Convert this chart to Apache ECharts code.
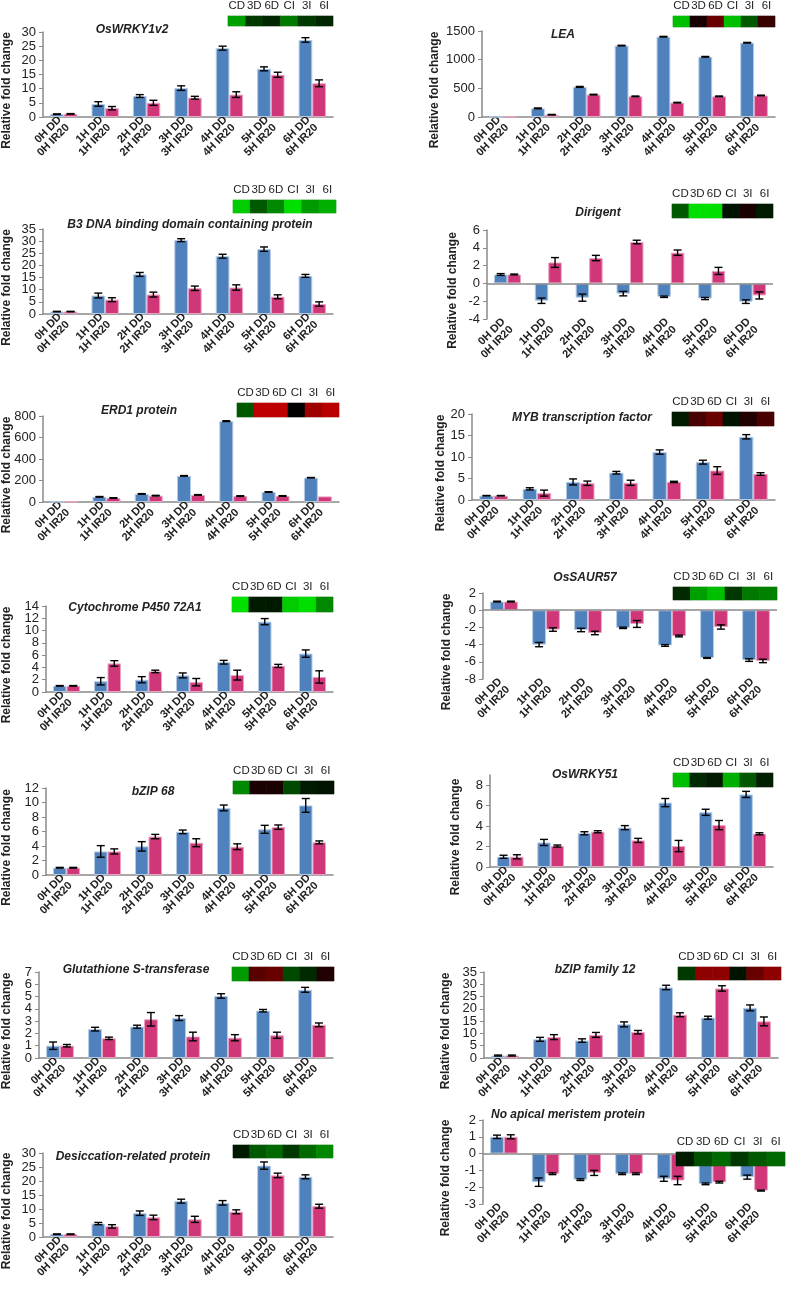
<!DOCTYPE html>
<html>
<head>
<meta charset="utf-8">
<script src="https://cdn.jsdelivr.net/npm/echarts@6/dist/echarts.min.js"></script>
<style>
  html, body { margin: 0; background: #fff; }
  #main { width: 787px; height: 1291px; }
</style>
</head>
<body>
<div id="main"></div>
<script>
// data
var hours = ["0H", "1H", "2H", "3H", "4H", "5H", "6H"];
var stages = ["CD", "3D", "6D", "CI", "3I", "6I"];
var genes = [
  "OsWRKY1v2", "LEA",
  "B3 DNA binding domain containing protein", "Dirigent",
  "ERD1 protein", "MYB transcription factor",
  "Cytochrome P450 72A1", "OsSAUR57",
  "bZIP 68", "OsWRKY51",
  "Glutathione S-transferase", "bZIP family 12",
  "Desiccation-related protein", "No apical meristem protein"
];
var ddValues = [
  [1.0, 4.6, 7.4, 10.2, 24.3, 17.0, 27.2],
  [1, 150, 525, 1245, 1400, 1050, 1295],
  [1.0, 7.6, 16.3, 30.4, 23.8, 26.7, 15.7],
  [1.0, -1.95, -1.6, -1.15, -1.5, -1.7, -2.05],
  [1, 48, 75, 243, 752, 93, 226],
  [1.0, 2.6, 4.2, 6.35, 11.15, 8.8, 14.7],
  [1.0, 1.75, 2.0, 2.7, 4.85, 11.45, 6.25],
  [1.0, -4.0, -2.3, -2.05, -4.1, -5.55, -5.8],
  [1.0, 3.25, 3.95, 5.95, 9.25, 6.3, 9.6],
  [1.0, 2.4, 3.3, 3.85, 6.3, 5.35, 7.1],
  [1.0, 2.35, 2.55, 3.25, 5.05, 3.85, 5.55],
  [1.0, 7.6, 7.1, 13.7, 28.7, 16.4, 20.4],
  [1.0, 4.8, 8.5, 12.8, 12.2, 25.5, 21.5],
  [1.0, -1.7, -1.55, -1.2, -1.5, -1.8, -1.4]
];
var ddErrors = [
  [0.1, 0.8, 0.5, 0.8, 0.7, 0.7, 0.8],
  [0, 8, 8, 6, 6, 6, 6],
  [0.1, 1.0, 0.8, 0.6, 0.8, 0.9, 0.6],
  [0.1, 0.3, 0.4, 0.25, 0.08, 0.12, 0.2],
  [0, 3, 3, 3, 4, 3, 2],
  [0.05, 0.25, 0.7, 0.3, 0.5, 0.45, 0.5],
  [0.05, 0.6, 0.5, 0.4, 0.3, 0.5, 0.6],
  [0.05, 0.25, 0.2, 0.08, 0.1, 0.05, 0.15],
  [0.05, 0.8, 0.65, 0.25, 0.4, 0.55, 0.95],
  [0.15, 0.3, 0.15, 0.2, 0.4, 0.3, 0.3],
  [0.3, 0.15, 0.12, 0.2, 0.18, 0.1, 0.2],
  [0.2, 0.8, 0.7, 1.0, 0.9, 0.6, 1.2],
  [0.1, 0.4, 0.8, 0.7, 0.8, 1.3, 0.7],
  [0.1, 0.25, 0.05, 0.05, 0.15, 0.05, 0.12]
];
var irValues = [
  [1.1, 3.1, 5.0, 6.8, 7.9, 14.9, 11.9],
  [6, 40, 390, 360, 250, 360, 375],
  [1.0, 5.9, 8.0, 10.6, 10.9, 7.1, 4.1],
  [1.0, 2.35, 2.85, 4.65, 3.45, 1.4, -1.35],
  [5, 37, 59, 66, 55, 56, 52],
  [1.0, 1.6, 3.9, 4.0, 4.2, 6.85, 6.05],
  [1.0, 4.65, 3.35, 1.6, 2.75, 4.25, 2.45],
  [1.0, -2.25, -2.65, -1.6, -3.0, -1.95, -5.9],
  [1.0, 3.25, 5.3, 4.45, 3.9, 6.6, 4.5],
  [1.0, 2.05, 3.45, 2.6, 2.05, 4.1, 3.25],
  [1.0, 1.6, 3.15, 1.75, 1.65, 1.85, 2.7],
  [1.0, 8.5, 9.4, 10.5, 17.6, 28.3, 14.9],
  [1.0, 3.8, 7.0, 6.3, 9.0, 22.0, 11.0],
  [1.0, -1.2, -1.15, -1.2, -1.6, -1.7, -2.2]
];
var irErrors = [
  [0.1, 0.6, 0.9, 0.5, 1.0, 0.9, 1.2],
  [0, 5, 6, 6, 6, 6, 6],
  [0.1, 0.8, 1.0, 0.9, 1.1, 0.8, 0.9],
  [0.05, 0.55, 0.3, 0.2, 0.3, 0.4, 0.4],
  [0, 3, 3, 3, 3, 3, 0],
  [0.05, 0.7, 0.5, 0.6, 0.15, 0.9, 0.3],
  [0.05, 0.45, 0.2, 0.6, 0.8, 0.25, 1.0],
  [0.05, 0.2, 0.2, 0.4, 0.1, 0.25, 0.2],
  [0.05, 0.35, 0.3, 0.55, 0.4, 0.3, 0.2],
  [0.2, 0.1, 0.1, 0.2, 0.55, 0.45, 0.1],
  [0.1, 0.1, 0.55, 0.35, 0.25, 0.25, 0.15],
  [0.2, 1.0, 1.0, 0.7, 0.8, 1.1, 1.8],
  [0.1, 0.6, 0.8, 1.1, 0.7, 0.8, 0.7],
  [0.12, 0.05, 0.15, 0.05, 0.25, 0.05, 0.03]
];
// heat strip (green = down, red = up), estimated from the colours
var heatValues = [
  [-2.5, -0.9, -0.6, -1.9, -0.9, -0.6],
  [-3.0, 0.35, 1.65, -3.0, -1.4, 0.9],
  [-3.2, -1.4, -2.15, -3.5, -2.4, -2.75],
  [-1.4, -3.5, -3.5, -0.3, 0.4, -0.4],
  [-1.4, 3.0, 3.0, 0.05, 2.5, 2.9],
  [-0.4, 1.15, 1.65, -0.3, 0.5, 1.15],
  [-3.5, -0.4, -0.4, -3.2, -3.5, -2.15],
  [-0.65, -2.5, -3.0, -0.9, -1.9, -2.0],
  [-2.15, 0.4, 0.4, -1.15, -0.4, -0.28],
  [-3.0, -0.65, -0.4, -2.75, -1.4, -0.5],
  [-2.4, 1.4, 1.65, -1.15, -0.65, 0.5],
  [-0.9, 2.25, 2.25, -0.28, 1.65, 2.25],
  [-0.4, -1.4, -1.65, -0.9, -1.65, -2.15],
  [-0.4, -1.25, -1.65, -0.9, -1.4, -1.65]
];
var yMin = [0, 0, 0, -4, 0, 0, 0, -8, 0, 0, 0, 0, 0, -3];
var yMax = [30, 1500, 35, 6, 800, 20, 14, 2, 12, 9, 7, 35, 30, 2];
var yStep = [5, 500, 5, 2, 200, 5, 2, 2, 2, 2, 1, 5, 5, 1];

// layout: plot box [l, t, r, b], heat strip [l, t, r, b], title centre [x, y], y-name gap
var layout = [
  [[38, 32, 333, 117], [228, 12, 333, 26], [132, 32], 30],
  [[482, 31, 775, 117], [673, 16, 775, 27], [563, 37], 41],
  [[38, 229, 333, 314], [233, 200, 336, 213], [190, 227], 30],
  [[487, 230, 773, 319], [672, 204, 773, 218], [598, 215], 28],
  [[38, 416, 339, 502], [237, 403, 339, 417], [139, 413], 30],
  [[472, 414, 775, 500], [672, 412, 774, 426], [582, 420], 25],
  [[39, 606, 333, 692], [232, 597, 333, 612], [135, 610], 33],
  [[483, 593, 777, 679], [673, 587, 777, 600], [585, 580], 30],
  [[38, 788, 333, 875], [233, 781, 334, 794], [153, 794], 33],
  [[490, 775, 773, 867], [673, 773, 773, 787], [585, 777], 28],
  [[33, 972, 333, 1058], [232, 967, 334, 981], [136, 972], 26],
  [[484, 972, 778, 1058], [678, 967, 781, 980], [595, 972], 32],
  [[38, 1153, 333, 1237], [233, 1145, 333, 1158], [133, 1159], 30],
  [[483, 1120, 775, 1204], [676, 1152, 785, 1166], [568, 1117], 31]
];

var BLUE = "#4f81bd";
var PINK = "#cf3779";
var AXIS = "#8a8a8a";
var CAT_GAP = 0.34;

function errorBar(side) {
  return function (params, api) {
    var err = api.value(2);
    if (!(err > 0)) return null;
    var cat = api.value(0);
    var val = api.value(1);
    var band = api.size([1, 0])[0];
    var barW = band * (1 - CAT_GAP) / 2;
    var x = api.coord([cat, val])[0] + side * barW / 2;
    var top = api.coord([cat, val + err])[1];
    var bot = api.coord([cat, val - err])[1];
    var c = 4;
    var st = { stroke: "#000", lineWidth: 1.4 };
    return {
      type: "group",
      children: [
        { type: "line", shape: { x1: x, y1: top, x2: x, y2: bot }, style: st },
        { type: "line", shape: { x1: x - c, y1: top, x2: x + c, y2: top }, style: st },
        { type: "line", shape: { x1: x - c, y1: bot, x2: x + c, y2: bot }, style: st }
      ]
    };
  };
}

var xLabels = hours.map(function (h) { return h + " DD\n" + h + " IR20"; });

var grids = [], xAxes = [], yAxes = [], series = [], titles = [], heatIdx = [];

genes.forEach(function (name, g) {
  var L = layout[g];
  var p = L[0], h = L[1];
  var hasNeg = yMin[g] < 0;
  var evenTicks = (yMax[g] - yMin[g]) % yStep[g] === 0;

  // bar grid
  var gi = grids.length;
  grids.push({ left: p[0], top: p[1], width: p[2] - p[0], height: p[3] - p[1] });
  xAxes.push({
    type: "category", gridIndex: gi, data: xLabels, position: "bottom",
    axisLine: { show: !hasNeg, onZero: false, lineStyle: { color: AXIS, width: 1.5 } },
    axisTick: { show: false },
    axisLabel: {
      interval: 0, rotate: 45, margin: 5, fontSize: 11, fontWeight: "bold",
      color: "#222", lineHeight: 11
    }
  });
  var yi = yAxes.length;
  yAxes.push({
    type: "value", gridIndex: gi, position: "left",
    min: yMin[g], max: yMax[g], interval: yStep[g],
    name: "Relative fold change", nameLocation: "middle", nameGap: L[3],
    nameTextStyle: { fontSize: 12, fontWeight: "bold", color: "#222", padding: [0, 32, 0, 0] },
    axisLine: { show: true, onZero: false, lineStyle: { color: AXIS, width: 1.5 } },
    axisTick: { show: true, length: 4, lineStyle: { color: AXIS } },
    axisLabel: {
      show: !evenTicks, fontSize: 13, color: "#222", margin: 7,
      showMaxLabel: false, formatter: function (v) { return String(v); }
    },
    splitLine: { show: false }
  });
  if (evenTicks) {
    // tick labels on a companion category axis so none get dropped
    var ticks = [];
    for (var t = yMin[g]; t <= yMax[g]; t += yStep[g]) ticks.push(String(t));
    yAxes.push({
      type: "category", gridIndex: gi, position: "left", offset: 0,
      data: ticks, boundaryGap: false,
      axisLine: { show: false, onZero: false }, axisTick: { show: false },
      axisLabel: { interval: 0, fontSize: 13, color: "#222", margin: 7 },
      splitLine: { show: false }
    });
  }
  var dd = {
    type: "bar", name: "DD", xAxisIndex: gi, yAxisIndex: yi,
    data: ddValues[g], barGap: "0%", barCategoryGap: CAT_GAP * 100 + "%",
    itemStyle: { color: BLUE, borderColor: "#b4cbe6", borderWidth: 1 }
  };
  if (hasNeg) {
    dd.markLine = {
      silent: true, symbol: "none", label: { show: false },
      lineStyle: { color: AXIS, width: 1.5, type: "solid" },
      data: [{ yAxis: 0 }]
    };
  }
  series.push(dd);
  series.push({
    type: "bar", name: "IR20", xAxisIndex: gi, yAxisIndex: yi,
    data: irValues[g], barGap: "0%", barCategoryGap: CAT_GAP * 100 + "%",
    itemStyle: { color: PINK, borderColor: "#eaa2c2", borderWidth: 1 }
  });
  series.push({
    type: "custom", xAxisIndex: gi, yAxisIndex: yi, z: 5,
    renderItem: errorBar(-1), encode: { x: 0, y: 1 },
    data: ddValues[g].map(function (v, i) { return [i, v, ddErrors[g][i]]; })
  });
  series.push({
    type: "custom", xAxisIndex: gi, yAxisIndex: yi, z: 5,
    renderItem: errorBar(1), encode: { x: 0, y: 1 },
    data: irValues[g].map(function (v, i) { return [i, v, irErrors[g][i]]; })
  });

  // heat strip grid
  var hi = grids.length;
  grids.push({
    left: h[0], top: h[1], width: h[2] - h[0], height: h[3] - h[1],
    show: true, borderColor: "#d8d8d8", borderWidth: 1
  });
  xAxes.push({
    type: "category", gridIndex: hi, data: stages, position: "top",
    axisLine: { show: false }, axisTick: { show: false },
    axisLabel: { interval: 0, fontSize: 11.5, color: "#222", margin: 4 }
  });
  var hyi = yAxes.length;
  yAxes.push({ type: "category", gridIndex: hi, data: [""], show: false });
  heatIdx.push(series.length);
  series.push({
    type: "heatmap", xAxisIndex: hi, yAxisIndex: hyi, z: 6,
    data: heatValues[g].map(function (v, i) { return [i, 0, v]; })
  });

  titles.push({
    text: name, left: L[2][0], top: L[2][1] - 8, textAlign: "center", padding: 0,
    textStyle: { fontSize: 12, fontWeight: "bold", fontStyle: "italic", color: "#222" }
  });
});

var myChart = echarts.init(document.getElementById("main"));
myChart.setOption({
  backgroundColor: "#fff",
  animation: false,
  textStyle: { fontFamily: "Liberation Sans, Arial, sans-serif" },
  title: titles,
  grid: grids,
  xAxis: xAxes,
  yAxis: yAxes,
  visualMap: {
    show: false, type: "continuous", min: -4, max: 4, dimension: 2,
    seriesIndex: heatIdx,
    inRange: { color: ["#00ff00", "#000000", "#ff0000"] }
  },
  series: series
});
</script>
</body>
</html>
